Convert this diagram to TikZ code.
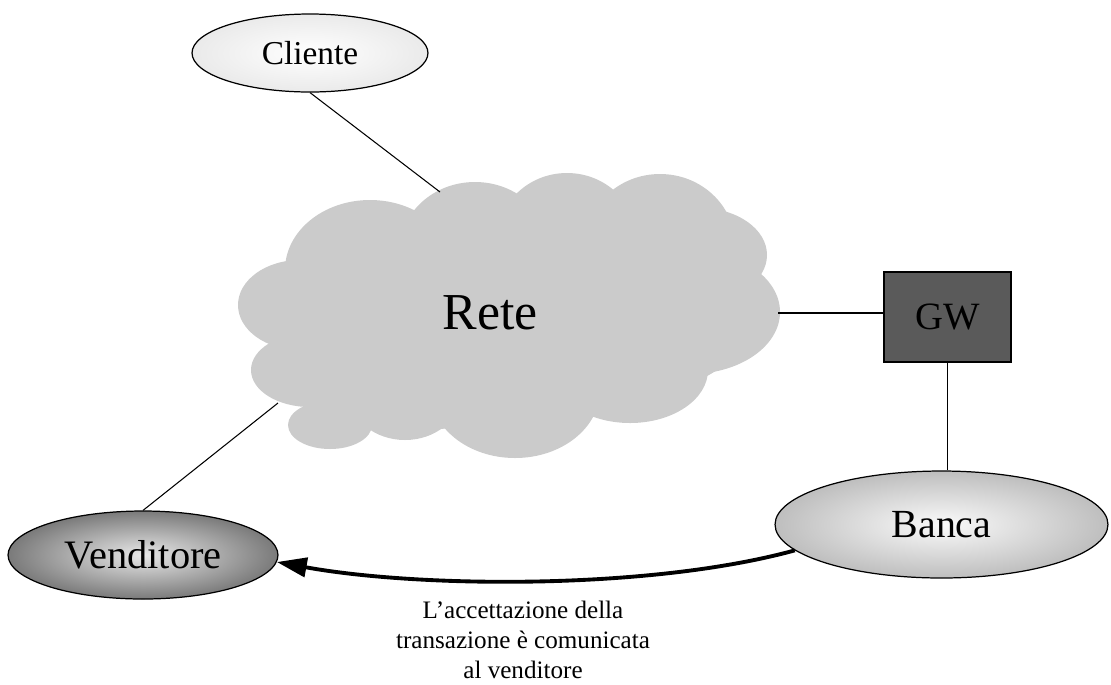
\documentclass[tikz,border=0pt]{standalone}
\usepackage{fontspec}
\setmainfont{Liberation Serif}
\usetikzlibrary{arrows.meta,shapes.geometric}
\definecolor{cloudgray}{RGB}{203,203,203}
\definecolor{cliout}{RGB}{234,234,234}
\definecolor{vendin}{RGB}{232,232,232}
\definecolor{vendout}{RGB}{122,122,122}
\definecolor{bankin}{RGB}{250,250,250}
\definecolor{bankout}{RGB}{190,190,190}
\definecolor{gwgray}{RGB}{90,90,90}
\begin{document}
\begin{tikzpicture}[x=0.02cm,y=-0.02cm,
  conn/.style={draw=black, line width=0.6pt},
  ell/.style={ellipse, draw=black, line width=0.7pt, inner sep=0pt},
  puff/.style={fill=cloudgray, draw=none}]
\useasboundingbox (0,0) rectangle (1111,684);
% cloud
\fill[puff] (300,305) ellipse [x radius=62, y radius=45];
\fill[puff] (370,270) ellipse [x radius=85, y radius=70];
\fill[puff] (475,250) ellipse [x radius=75, y radius=68];
\fill[puff] (567,240) ellipse [x radius=70, y radius=67];
\fill[puff] (660,245) ellipse [x radius=75, y radius=71];
\fill[puff] (700,255) ellipse [x radius=67, y radius=47];
\fill[puff] (690,312) ellipse [x radius=90, y radius=62];
\fill[puff] (630,370) ellipse [x radius=78, y radius=53];
\fill[puff] (515,390) ellipse [x radius=85, y radius=68];
\fill[puff] (405,395) ellipse [x radius=55, y radius=45];
\fill[puff] (330,425) ellipse [x radius=42, y radius=24];
\fill[puff] (310,370) ellipse [x radius=59, y radius=37];
\fill[puff] (510,320) ellipse [x radius=200, y radius=100];
\fill[puff] (420,375) ellipse [x radius=110, y radius=55];
\fill[puff] (600,320) ellipse [x radius=150, y radius=80];
\node[font=\fontsize{29.5}{34}\selectfont, anchor=base, inner sep=0pt] (rete) at (490,329) {Rete};
\coordinate (cN) at (440,192);
\coordinate (cE) at (778,313);
\coordinate (cSW) at (278,403);
% nodes
\node[ell, minimum width=4.72cm, minimum height=1.56cm, inner color=white, outer color=cliout,
  font=\fontsize{19}{22}\selectfont] (cli) at (310,53) {Cliente};
\node[ell, minimum width=5.4cm, minimum height=1.76cm, inner color=vendin, outer color=vendout,
  font=\fontsize{23}{27}\selectfont] (vend) at (143,555) {Venditore};
\node[ell, minimum width=6.66cm, minimum height=2.14cm, inner color=bankin, outer color=bankout,
  font=\fontsize{22.7}{27}\selectfont] (banca) at (941.5,524.5) {Banca};
\node[draw=black, line width=0.7pt, fill=gwgray, minimum width=2.54cm, minimum height=1.8cm,
  inner sep=0pt, font=\fontsize{22}{26}\selectfont] (gw) at (947.5,317) {GW};
% connectors
\draw[conn] (cli.south) -- (cN);
\draw[conn] (cE) -- (cE -| gw.west);
\draw[conn] (gw.south) -- (gw.south |- banca.north);
\draw[conn] (vend.north) -- (cSW);
\draw[line width=2.2pt, -{Triangle[length=17pt,width=11pt]}]
  (banca.190.7) .. controls (650,590) and (420,588) .. (vend.-3);
\node[anchor=north, align=center, inner sep=0pt, font=\fontsize{14.3}{17}\selectfont] (cap)
  at (523,601) {L’accettazione della\\transazione è comunicata\\al venditore};
\end{tikzpicture}
\end{document}
